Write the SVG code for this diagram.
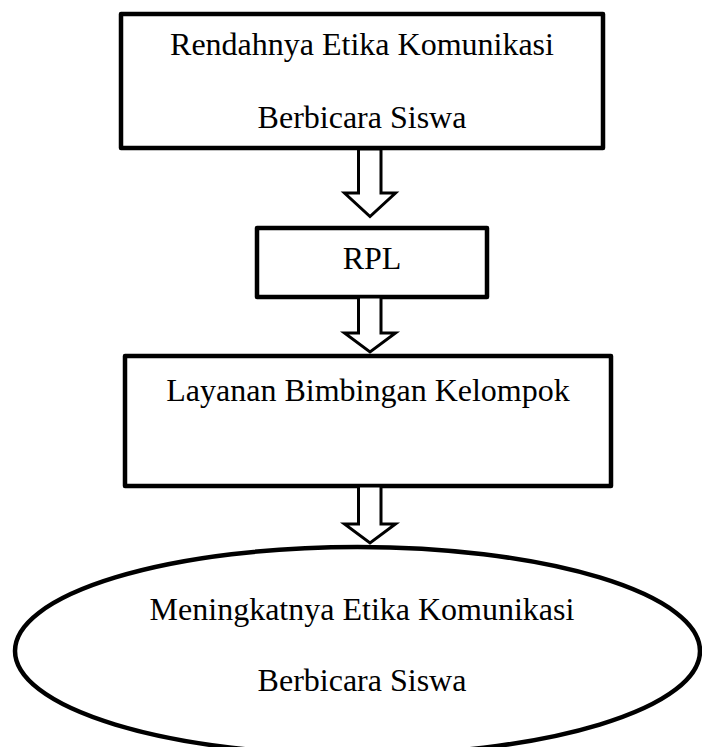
<svg xmlns="http://www.w3.org/2000/svg" width="702" height="747" viewBox="0 0 702 747">
<style>
.box{fill:#fff;stroke:#000;stroke-width:4.5;stroke-linejoin:round}
.arr{fill:#fff;stroke:#000;stroke-width:3;stroke-linejoin:miter}
.t{font-family:"Liberation Serif","Times New Roman",serif;font-size:32px;fill:#000;text-anchor:middle}
</style>
<rect width="702" height="747" fill="#fff"/>
<g id="node-rendahnya">
<rect class="box" x="121" y="14" width="482" height="134"/>
<text class="t" x="362" y="55">Rendahnya Etika Komunikasi</text>
<text class="t" x="362" y="128">Berbicara Siswa</text>
</g>
<g id="node-rpl">
<rect class="box" x="257" y="228" width="230" height="69"/>
<text class="t" x="372" y="269">RPL</text>
</g>
<g id="node-layanan">
<rect class="box" x="125" y="356" width="486" height="130"/>
<text class="t" x="368" y="401">Layanan Bimbingan Kelompok</text>
</g>
<g id="node-meningkatnya">
<ellipse class="box" cx="357.5" cy="651" rx="342.5" ry="104"/>
<text class="t" x="362" y="620">Meningkatnya Etika Komunikasi</text>
<text class="t" x="362" y="691">Berbicara Siswa</text>
</g>
<g id="connectors">
<path class="arr" d="M358.5,149 H381 V193 H395.5 L370,216.5 L344.5,193 H358.5 Z"/>
<path class="arr" d="M358.5,297 H381 V333 H395.5 L370,352 L344.5,333 H358.5 Z"/>
<path class="arr" d="M358.5,486 H381 V524 H395.5 L370,543 L344.5,524 H358.5 Z"/>
</g>
</svg>
